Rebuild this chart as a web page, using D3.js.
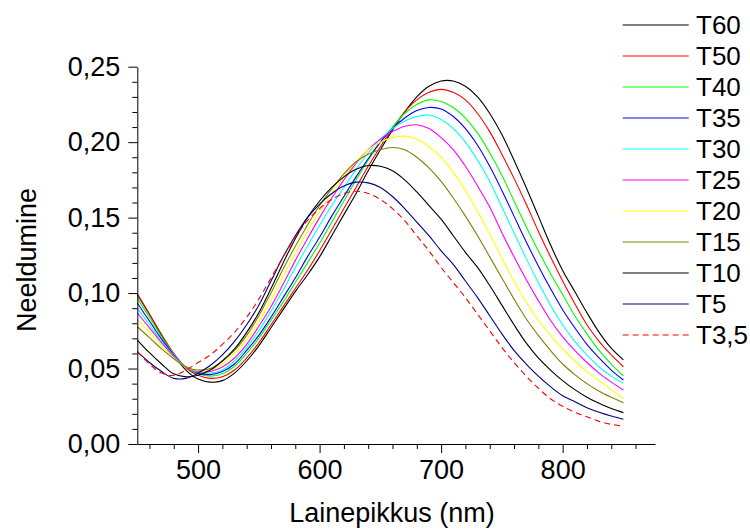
<!DOCTYPE html>
<html><head><meta charset="utf-8">
<script src="https://cdn.jsdelivr.net/npm/d3@7/dist/d3.min.js"></script>
<style>body{margin:0;background:#fff}svg{display:block}text{font-family:"Liberation Sans",Arial,sans-serif;fill:#000}</style>
</head><body><svg id="c" width="750" height="532"></svg>
<script>
const wavelengths = [450,460,470,480,490,500,510,520,530,540,550,560,570,580,590,600,610,620,630,640,650,660,670,680,690,700,710,720,730,740,750,760,770,780,790,800,810,820,830,840,850];
const seriesNames = ["T60","T50","T40","T35","T30","T25","T20","T15","T10","T5","T3,5"];
const T60 = [0.099,0.086,0.072,0.059,0.049,0.043,0.041,0.042,0.047,0.055,0.065,0.077,0.089,0.101,0.112,0.124,0.138,0.152,0.166,0.181,0.195,0.208,0.220,0.230,0.237,0.2405,0.2405,0.237,0.230,0.219,0.205,0.188,0.170,0.151,0.132,0.115,0.101,0.087,0.074,0.0635,0.0557];
const T50 = [0.0995,0.086,0.0725,0.060,0.0505,0.0455,0.0435,0.0445,0.049,0.057,0.067,0.079,0.091,0.103,0.115,0.128,0.142,0.156,0.170,0.184,0.197,0.209,0.220,0.228,0.233,0.235,0.233,0.228,0.219,0.207,0.192,0.176,0.159,0.141,0.124,0.108,0.093,0.079,0.068,0.059,0.0512];
const T40 = [0.0965,0.084,0.071,0.0595,0.051,0.0465,0.045,0.0465,0.0515,0.060,0.070,0.082,0.094,0.107,0.120,0.133,0.147,0.161,0.175,0.188,0.200,0.210,0.219,0.225,0.228,0.227,0.223,0.216,0.206,0.193,0.178,0.161,0.144,0.128,0.113,0.099,0.085,0.073,0.062,0.053,0.0451];
const T35 = [0.0934,0.0815,0.0695,0.059,0.051,0.047,0.046,0.048,0.053,0.062,0.072,0.084,0.097,0.110,0.124,0.137,0.151,0.164,0.177,0.189,0.200,0.209,0.216,0.221,0.223,0.222,0.217,0.209,0.198,0.184,0.168,0.151,0.134,0.118,0.103,0.089,0.077,0.066,0.057,0.049,0.0424];
const T30 = [0.090,0.079,0.068,0.0585,0.051,0.0475,0.047,0.049,0.055,0.064,0.075,0.088,0.102,0.117,0.131,0.145,0.158,0.170,0.182,0.193,0.202,0.209,0.214,0.217,0.218,0.215,0.209,0.200,0.188,0.174,0.157,0.140,0.123,0.107,0.092,0.079,0.068,0.059,0.051,0.045,0.0402];
const T25 = [0.0868,0.077,0.067,0.058,0.051,0.048,0.048,0.051,0.057,0.066,0.078,0.091,0.106,0.1215,0.136,0.150,0.163,0.175,0.186,0.195,0.202,0.207,0.2105,0.2115,0.209,0.203,0.195,0.184,0.171,0.157,0.140,0.124,0.109,0.095,0.082,0.071,0.062,0.054,0.047,0.041,0.0358];
const T20 = [0.0822,0.074,0.065,0.057,0.051,0.0485,0.049,0.053,0.060,0.069,0.081,0.095,0.111,0.126,0.141,0.154,0.166,0.177,0.187,0.195,0.200,0.203,0.204,0.202,0.197,0.190,0.180,0.168,0.154,0.139,0.123,0.108,0.094,0.082,0.072,0.063,0.055,0.048,0.042,0.036,0.0303];
const T15 = [0.0777,0.0705,0.063,0.0565,0.051,0.049,0.050,0.055,0.062,0.072,0.085,0.100,0.116,0.131,0.145,0.158,0.169,0.179,0.187,0.192,0.195,0.1965,0.195,0.190,0.183,0.174,0.163,0.151,0.138,0.124,0.110,0.096,0.083,0.072,0.062,0.053,0.046,0.040,0.035,0.031,0.0274];
const T10 = [0.0689,0.0605,0.053,0.0465,0.0445,0.0455,0.049,0.055,0.063,0.074,0.087,0.103,0.120,0.136,0.150,0.161,0.170,0.177,0.182,0.1845,0.184,0.181,0.175,0.167,0.158,0.149,0.138,0.127,0.117,0.105,0.092,0.079,0.067,0.057,0.049,0.042,0.036,0.031,0.027,0.0235,0.0208];
const T5 = [0.0612,0.054,0.048,0.0435,0.0435,0.047,0.052,0.059,0.068,0.079,0.092,0.108,0.124,0.138,0.150,0.159,0.166,0.171,0.1735,0.173,0.170,0.164,0.156,0.147,0.138,0.128,0.119,0.108,0.097,0.085,0.073,0.062,0.053,0.045,0.038,0.032,0.028,0.024,0.021,0.0185,0.0164];
const T3_5 = [0.0612,0.053,0.047,0.0455,0.049,0.054,0.059,0.066,0.074,0.084,0.096,0.110,0.124,0.137,0.148,0.156,0.162,0.166,0.1675,0.166,0.162,0.156,0.148,0.138,0.128,0.117,0.107,0.097,0.086,0.075,0.064,0.054,0.045,0.037,0.030,0.025,0.021,0.018,0.015,0.013,0.0119];
const seriesValues = [T60,T50,T40,T35,T30,T25,T20,T15,T10,T5,T3_5];
const seriesColors = ["#000000","#ff0000","#00ff00","#0000ff","#00ffff","#ff00ff","#ffff00","#808000","#000000","#000080","#ff0000"];
const seriesDash = [null,null,null,null,null,null,null,null,null,null,"6,4"];
const xMajorTicks = [500,600,700,800];
const yMajorTicks = [0,0.05,0.10,0.15,0.20,0.25];
const yTickLabels = ["0,00","0,05","0,10","0,15","0,20","0,25"];

const svg = d3.select("#c");
const x = d3.scaleLinear().domain([450,876]).range([137.3,655]);
const y = d3.scaleLinear().domain([0,0.25]).range([444,66.7]);
const font = '"Liberation Sans",Arial,sans-serif';

const line = d3.line().x(d=>x(d[0])).y(d=>y(d[1])).curve(d3.curveCatmullRom.alpha(0.5));
seriesValues.forEach((vals,i)=>{
  svg.append("path").datum(wavelengths.map((w,j)=>[w,vals[j]]))
    .attr("d",line).attr("fill","none").attr("stroke",seriesColors[i])
    .attr("stroke-width",1.1).attr("stroke-dasharray",seriesDash[i]);
});

const xMinor = d3.range(460,876,20).filter(v=>!xMajorTicks.includes(v));
const gx = svg.append("g").attr("transform","translate(0,444)");
gx.call(d3.axisBottom(x).tickValues(xMinor).tickSize(5).tickFormat(""));
gx.call(g=>g.select(".domain").remove());
gx.selectAll("line").attr("stroke","#000");
const gx2 = svg.append("g").attr("transform","translate(0,444)");
gx2.call(d3.axisBottom(x).tickValues(xMajorTicks).tickSize(9).tickSizeOuter(0).tickPadding(7).tickFormat(d3.format("d")));
gx2.selectAll("text").attr("font-size",27).attr("font-family",font).attr("fill","#000");
gx2.selectAll("path,line").attr("stroke","#000");

const yMinor = d3.range(0.01,0.25,0.01).filter(v=>Math.abs(Math.round(v*20)-v*20)>1e-6);
const gy = svg.append("g").attr("transform","translate(137.3,0)");
gy.call(d3.axisLeft(y).tickValues(yMinor).tickSize(5).tickFormat(""));
gy.call(g=>g.select(".domain").remove());
gy.selectAll("line").attr("stroke","#000");
const gy2 = svg.append("g").attr("transform","translate(137.3,0)");
gy2.call(d3.axisLeft(y).tickValues(yMajorTicks).tickSize(9).tickSizeOuter(0).tickPadding(8).tickFormat((d,i)=>yTickLabels[i]));
gy2.selectAll("text").attr("font-size",27).attr("font-family",font).attr("fill","#000");
gy2.selectAll("path,line").attr("stroke","#000");

svg.append("text").attr("x",392).attr("y",522).attr("text-anchor","middle")
  .attr("font-size",27).text("Lainepikkus (nm)");
svg.append("text").attr("transform","translate(36,260) rotate(-90)").attr("text-anchor","middle")
  .attr("font-size",27).text("Neeldumine");

const lg = svg.append("g");
seriesNames.forEach((n,i)=>{
  const yy = 25 + i*31;
  lg.append("line").attr("x1",622.7).attr("x2",688.7).attr("y1",yy).attr("y2",yy)
    .attr("stroke",seriesColors[i]).attr("stroke-width",1.1).attr("stroke-dasharray",seriesDash[i]);
  lg.append("text").attr("x",696).attr("y",yy).attr("dy","0.36em").attr("font-size",26).text(n);
});
</script></body></html>
